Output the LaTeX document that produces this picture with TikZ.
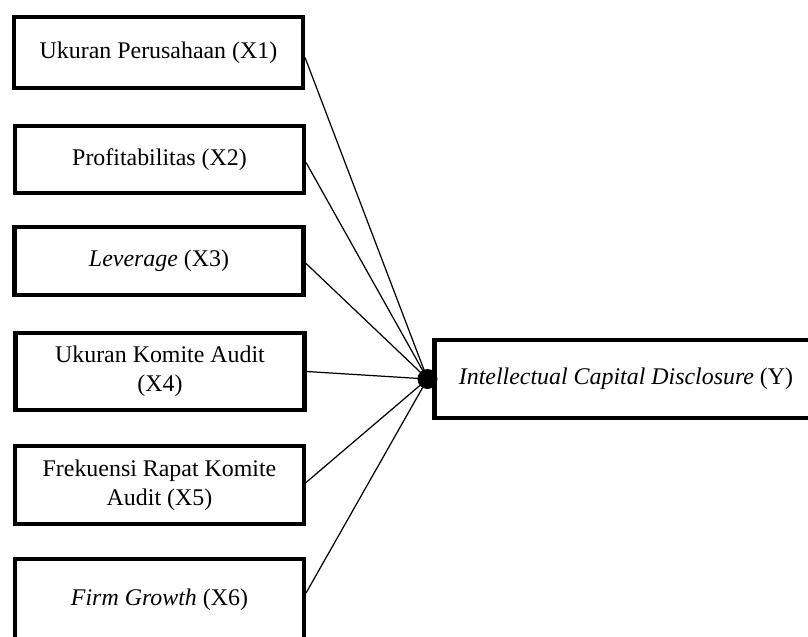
\documentclass[tikz,border=0pt]{standalone}
\usepackage{fontspec}
\setmainfont{Liberation Serif}
\begin{document}
\begin{tikzpicture}[
    varbox/.style={draw, line width=2.3pt, minimum width=5.78cm, align=center,
      font=\fontsize{13.6}{16.5}\selectfont},
    link/.style={line width=0.7pt}]
      \useasboundingbox (0,0) rectangle (16.16,12.72);

      % independent variables
      \node[varbox, minimum height=1.42cm] (x1) at (3.17,11.67) {Ukuran Perusahaan (X1)};
      \node[varbox, minimum height=1.34cm] (x2) at (3.19,9.53) {Profitabilitas (X2)};
      \node[varbox, minimum height=1.36cm] (x3) at (3.18,7.5) {\textit{Leverage} (X3)};
      \node[varbox, minimum height=1.54cm] (x4) at (3.2,5.29) {Ukuran Komite Audit\\(X4)};
      \node[varbox, minimum height=1.56cm] (x5) at (3.19,3.02) {Frekuensi Rapat Komite\\Audit (X5)};
      \node[varbox, minimum height=1.64cm] (x6) at (3.19,0.72) {\textit{Firm Growth} (X6)};

      % dependent variable
      \node[varbox, minimum width=7.66cm, minimum height=1.56cm] (y) at (12.52,5.14)
        {\textit{Intellectual Capital Disclosure} (Y)};
      \coordinate (hub) at ([xshift=-0.1cm]y.west);

      \draw[link] ([yshift=-0.1cm]x1.east) -- (hub);
      \draw[link] ([yshift=-0.06cm]x2.east) -- (hub);
      \draw[link] ([yshift=-0.04cm]x3.east) -- (hub);
      \draw[link] (x4.east) -- (hub);
      \draw[link] ([yshift=0.05cm]x5.east) -- (hub);
      \draw[link] ([yshift=0.14cm]x6.east) -- (hub);
      \fill [black] (hub) circle (0.2);
\end{tikzpicture}
\end{document}
